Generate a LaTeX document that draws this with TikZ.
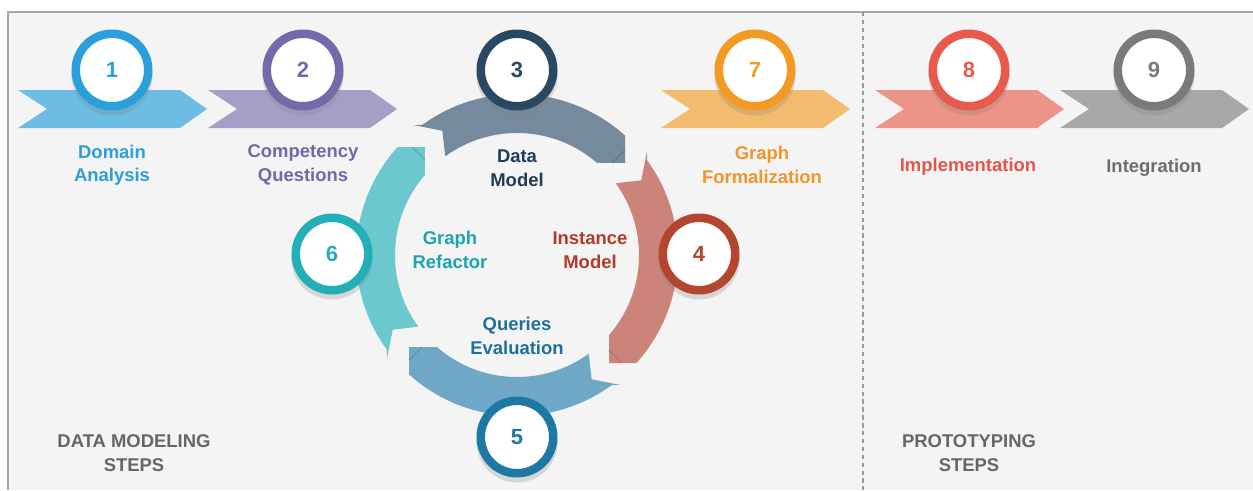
\documentclass[tikz,border=0pt]{standalone}
\usepackage{fontspec}
\setmainfont{Liberation Sans}
\usetikzlibrary{positioning,shadows}

\definecolor{panelgray}{HTML}{F4F4F4}
\definecolor{ring1}{HTML}{29A0D9}
\definecolor{ring2}{HTML}{7767AB}
\definecolor{ring3}{HTML}{2B4862}
\definecolor{ring4}{HTML}{B4462F}
\definecolor{ring5}{HTML}{1E78A5}
\definecolor{ring6}{HTML}{22AFB7}
\definecolor{ring7}{HTML}{F29A22}
\definecolor{ring8}{HTML}{E85A4B}
\definecolor{ring9}{HTML}{7A7A7A}
\definecolor{chev1}{HTML}{6DBDE2}
\definecolor{chev2}{HTML}{A59FC8}
\definecolor{chev7}{HTML}{F3BB6D}
\definecolor{chev8}{HTML}{EC9488}
\definecolor{chev9}{HTML}{A8A8A8}
\definecolor{arcslate}{HTML}{758B9D}
\definecolor{arcred}{HTML}{CC847A}
\definecolor{arcblue}{HTML}{6FA8C6}
\definecolor{arcteal}{HTML}{6CC8CF}
\definecolor{txtdomain}{HTML}{2A9FD8}
\definecolor{txtcomp}{HTML}{7565A9}
\definecolor{txtdata}{HTML}{1F3B57}
\definecolor{txtinst}{HTML}{B23A2A}
\definecolor{txtquery}{HTML}{1C6F9E}
\definecolor{txtrefac}{HTML}{1AA5AE}
\definecolor{txtform}{HTML}{F0952A}
\definecolor{txtimpl}{HTML}{E5544A}
\definecolor{txtinteg}{HTML}{6E6E6E}
\definecolor{txtsteps}{HTML}{666666}

\tikzset{
    badge/.style={
        draw=#1,
        text=#1,
        circle,
        fill=white,
        line width=0.17cm,
        minimum size=1.45cm,
        inner sep=0pt,
        font=\fontsize{12.5pt}{14pt}\selectfont\bfseries,
        drop shadow={shadow xshift=0pt, shadow yshift=-2.5pt, opacity=0.25, shadow scale=1.12}
    },
    steptext/.style={
        text=#1,
        align=center,
        inner sep=0pt,
        font=\fontsize{10.5pt}{13.4pt}\selectfont\bfseries
    },
    frame/.style={
        draw=black!35,
        line width=1pt
    },
    divider/.style={
        draw=black!40,
        line width=0.6pt,
        dash pattern=on 2.5pt off 2pt
    },
    fold/.style={
        line width=0.5pt,
        opacity=0.6
    },
}

\begin{document}
\begin{tikzpicture}[x=0.02cm, y=-0.02cm]
    \useasboundingbox (0,0) rectangle (1253,490);

    % panel
    \fill[panelgray] (8,12) rectangle (1253,490);
    \draw[frame] (8,490) -- (8,12) -- (1253,12);
    \draw[divider] (863,12) -- (863,490);

    % chevrons
    \foreach \xa/\col in {18/chev1, 208/chev2, 661/chev7, 875/chev8, 1060/chev9}
        \fill[\col] (\xa,90) -- ++(162,0) -- ++(27,19) -- ++(-27,19) -- ++(-162,0) -- ++(29,-19) -- cycle;

    % cycle arrows
    \foreach \rot/\col in {0/arcslate, -90/arcred, 180/arcblue, 90/arcteal}{
        \begin{scope}[shift={(517,255)}, rotate=\rot, yscale=-1]
            \fill[\col] (108,92) -- (108,119.4) arc[start angle=47.9, end angle=126, radius=161]
                -- (128.5:166) -- (121:145) -- (126:122) arc[start angle=126, end angle=49, radius=122] -- cycle;
            \draw[fold, \col!70!black] (108,105) -- (95,92);
        \end{scope}
    }

    % badges
    \node[badge=ring1] (b1) at (112,70) {1};
    \node[badge=ring2] (b2) at (303,70) {2};
    \node[badge=ring3] (b3) at (517,70) {3};
    \node[badge=ring4] (b4) at (699,254) {4};
    \node[badge=ring5] (b5) at (517,437) {5};
    \node[badge=ring6] (b6) at (332,254) {6};
    \node[badge=ring7] (b7) at (755,70) {7};
    \node[badge=ring8] (b8) at (969,70) {8};
    \node[badge=ring9] (b9) at (1154,70) {9};

    % labels
    \node[steptext=txtdomain] (domain) at (112,165) {Domain\\Analysis};
    \node[steptext=txtcomp] (comp) at (303,165) {Competency\\Questions};
    \node[steptext=txtdata] (data) at (517,168) {Data\\Model};
    \node[steptext=txtinst] (inst) at (590,250) {Instance\\Model};
    \node[steptext=txtquery] (query) at (517,336) {Queries\\Evaluation};
    \node[steptext=txtrefac] (refac) at (450,250) {Graph\\Refactor};
    \node[steptext=txtform] (form) at (762,165) {Graph\\Formalization};
    \node[steptext=txtimpl] (impl) at (968,167) {Implementation};
    \node[steptext=txtinteg] (integ) at (1154,168) {Integration};
    \node[steptext=txtsteps] (modsteps) at (134,453) {DATA MODELING\\STEPS};
    \node[steptext=txtsteps] (protsteps) at (969,453) {PROTOTYPING\\STEPS};
\end{tikzpicture}
\end{document}
